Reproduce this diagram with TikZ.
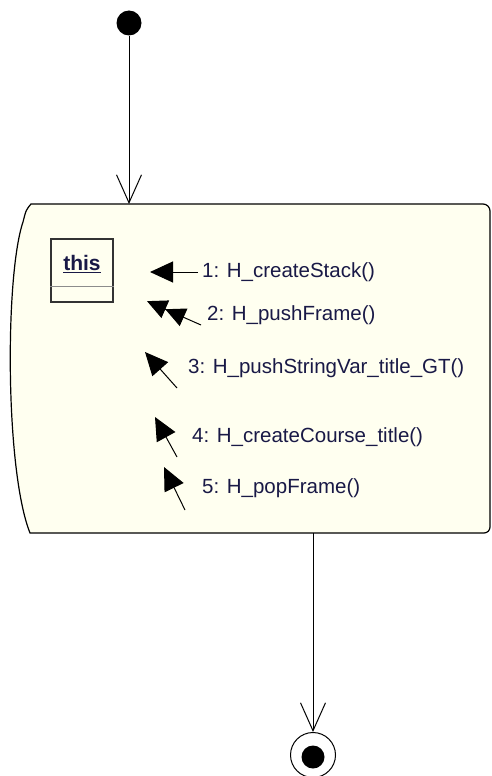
\documentclass[tikz,border=0pt]{standalone}
\usepackage{fontspec}
\setmainfont{Liberation Sans}
\usetikzlibrary{arrows.meta}
\definecolor{boxfill}{RGB}{255,255,240}
\definecolor{msgtext}{RGB}{25,25,70}
\begin{document}
\begin{tikzpicture}[x=1pt,y=-1pt,
  msglabel/.style={anchor=west,inner sep=0pt,text=msgtext,font=\fontsize{20.5}{24}\selectfont},
  msgarrow/.style={line width=1pt,-{Triangle[length=23pt,width=21pt]}},
  flow/.style={line width=1pt,-{Straight Barb[length=28pt,width=25pt,line width=1pt]}}]
\useasboundingbox (0,0) rectangle (491,776);
% initial state
\node (init) [circle,fill=black,minimum size=25pt,inner sep=0pt] at (129,23) {};
% activity box
\draw[line width=1.2pt,fill=boxfill]
  (31,204) -- (483,204) arc[start angle=90,end angle=0,radius=7pt]
  -- (490,527) arc[start angle=0,end angle=-90,radius=6pt]
  -- (30,533) .. controls (5,470) and (5,275) .. (23,222) .. controls (26,210) .. (31,204) -- cycle;
\coordinate (boxtop) at (129,204);
\coordinate (boxbot) at (313,533);
% object "this"
\node (obj) [draw=black!80,line width=1.1pt,minimum width=62pt,minimum height=63pt,inner sep=0pt] at (82,270.5) {};
\draw[black!45,line width=0.8pt] (obj.west |- 0,286) -- (obj.east |- 0,286);
\node (objname) [inner sep=0pt,text=msgtext,font=\bfseries\fontsize{21}{24}\selectfont] at (82,264) {\underline{this}};
% messages
\node (m1) [msglabel] at (202,272) {1: H\_createStack()};
\node (m2) [msglabel] at (207,315) {2: H\_pushFrame()};
\node (m3) [msglabel] at (188,368) {3: H\_pushStringVar\_title\_GT()};
\node (m4) [msglabel] at (192,437) {4: H\_createCourse\_title()};
\node (m5) [msglabel] at (202,488) {5: H\_popFrame()};
\coordinate (t1) at (198,272); \coordinate (h1) at (150,272);
\coordinate (t2) at (201,325); \coordinate (h2) at (158,306);
\coordinate (t3) at (177,388); \coordinate (h3) at (145,352);
\coordinate (t4) at (177,457); \coordinate (h4) at (155,417);
\coordinate (t5) at (185,510); \coordinate (h5) at (164,467);
\draw[msgarrow] (t1) -- (h1);
\draw[line width=1pt,-{Triangle[length=20pt,width=19pt] Triangle[length=20pt,width=19pt,sep=-12pt]}] (t2) -- (h2);
\draw[msgarrow] (t3) -- (h3);
\draw[msgarrow] (t4) -- (h4);
\draw[msgarrow] (t5) -- (h5);
% final state
\node (final) [circle,draw=black,line width=1pt,minimum size=45pt,inner sep=0pt] at (313,755) {};
\node (finaldot) [circle,fill=black,minimum size=23pt,inner sep=0pt] at (313,757) {};
% transitions
\draw[flow] (init) -- (boxtop);
\draw[flow] (boxbot) -- (final);
\end{tikzpicture}
\end{document}
